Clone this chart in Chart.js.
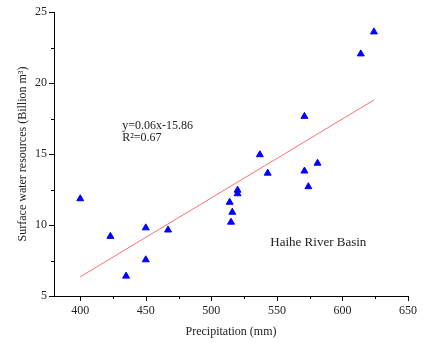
<!DOCTYPE html>
<html>
<head>
<meta charset="utf-8">
<script src="https://cdn.jsdelivr.net/npm/chart.js@4"></script>
<style>
  html, body { margin: 0; padding: 0; background: #fff; }
  #wrap { width: 423px; height: 343px; }
</style>
</head>
<body>
<div id="wrap"><canvas id="haihe-chart"></canvas></div>
<script>
// precipitation (mm) vs surface water resources (billion m3)
const precip = [400, 423, 435, 450, 450, 467, 514, 516, 515, 520, 520, 537, 543, 571, 571, 574, 581, 614, 624];
const water = [11.85, 9.2, 6.4, 9.8, 7.55, 9.65, 11.6, 10.9, 10.2, 12.45, 12.2, 14.95, 13.65, 17.65, 13.8, 12.7, 14.35, 22.05, 23.6];
const fitX = [400, 624];
const fitY = [6.35, 18.8];
const xTicks = [400, 450, 500, 550, 600, 650];
const yTicks = [5, 10, 15, 20, 25];

const serif = "'Liberation Serif', 'DejaVu Serif', serif";
const textColor = "#222";

const points = [];
for (let i = 0; i < precip.length; i++) {
  points.push({ x: precip[i], y: water[i] });
}
const fitLine = [];
for (let i = 0; i < fitX.length; i++) {
  fitLine.push({ x: fitX[i], y: fitY[i] });
}

// draws major + minor ticks and the text labels inside the plot
const extras = {
  id: "extras",
  afterDraw(chart) {
    const ctx = chart.ctx;
    const xs = chart.scales.x;
    const ys = chart.scales.y;
    const bottom = chart.chartArea.bottom;
    const left = chart.chartArea.left;
    ctx.save();
    ctx.strokeStyle = "#000";
    ctx.lineWidth = 1;
    ctx.beginPath();
    for (let v = 400; v <= 650; v += 25) {
      const px = Math.round(xs.getPixelForValue(v)) + 0.5;
      const len = v % 50 === 0 ? 5 : 3;
      ctx.moveTo(px, bottom);
      ctx.lineTo(px, bottom + len);
    }
    for (let v = 5; v <= 25; v += 2.5) {
      const py = Math.round(ys.getPixelForValue(v)) + 0.5;
      const len = v % 5 === 0 ? 5 : 3;
      ctx.moveTo(left, py);
      ctx.lineTo(left - len, py);
    }
    ctx.stroke();

    ctx.fillStyle = textColor;
    ctx.font = "12px " + serif;
    ctx.textBaseline = "middle";
    ctx.textAlign = "left";
    ctx.fillText("y=0.06x-15.86", xs.getPixelForValue(432), ys.getPixelForValue(16.95));
    ctx.fillText("R²=0.67", xs.getPixelForValue(432), ys.getPixelForValue(16.15));
    ctx.font = "13px " + serif;
    ctx.fillText("Haihe River Basin", xs.getPixelForValue(545), ys.getPixelForValue(8.75));
    ctx.restore();
  },
};

new Chart(document.getElementById("haihe-chart"), {
  type: "scatter",
  data: {
    datasets: [
      {
        label: "Observed",
        data: points,
        pointStyle: "triangle",
        pointRadius: 4,
        backgroundColor: "#0000ff",
        borderColor: "#0000ff",
        borderWidth: 1,
        order: 1,
      },
      {
        label: "Fit",
        type: "line",
        data: fitLine,
        borderColor: "#ff7070",
        borderWidth: 1,
        pointRadius: 0,
        fill: false,
        order: 2,
      },
    ],
  },
  options: {
    responsive: true,
    maintainAspectRatio: false,
    animation: false,
    layout: { padding: 0 },
    plugins: {
      legend: { display: false },
      tooltip: { enabled: false },
    },
    scales: {
      x: {
        type: "linear",
        min: 380,
        max: 650,
        afterBuildTicks: (s) => { s.ticks = xTicks.map((v) => ({ value: v })); },
        afterFit: (s) => { s.height = 47; s.paddingRight = 15; },
        grid: { display: false, drawTicks: false, tickLength: 0 },
        border: { display: true, color: "#000", width: 1 },
        ticks: { color: textColor, font: { family: serif, size: 12 }, padding: 8, maxRotation: 0 },
        title: {
          display: true,
          text: "Precipitation (mm)",
          color: textColor,
          font: { family: serif, size: 12 },
          padding: { top: 0, bottom: 4 },
        },
      },
      y: {
        min: 5,
        max: 25,
        afterBuildTicks: (s) => { s.ticks = yTicks.map((v) => ({ value: v })); },
        afterFit: (s) => { s.width = 54; s.paddingTop = 12; },
        grid: { display: false, drawTicks: false, tickLength: 0 },
        border: { display: true, color: "#000", width: 1 },
        ticks: { color: textColor, font: { family: serif, size: 12 }, padding: 7 },
        title: {
          display: true,
          text: "Surface water resources (Billion m³)",
          color: textColor,
          font: { family: serif, size: 12 },
          padding: { top: 16, bottom: 0 },
        },
      },
    },
  },
  plugins: [extras],
});
</script>
</body>
</html>
